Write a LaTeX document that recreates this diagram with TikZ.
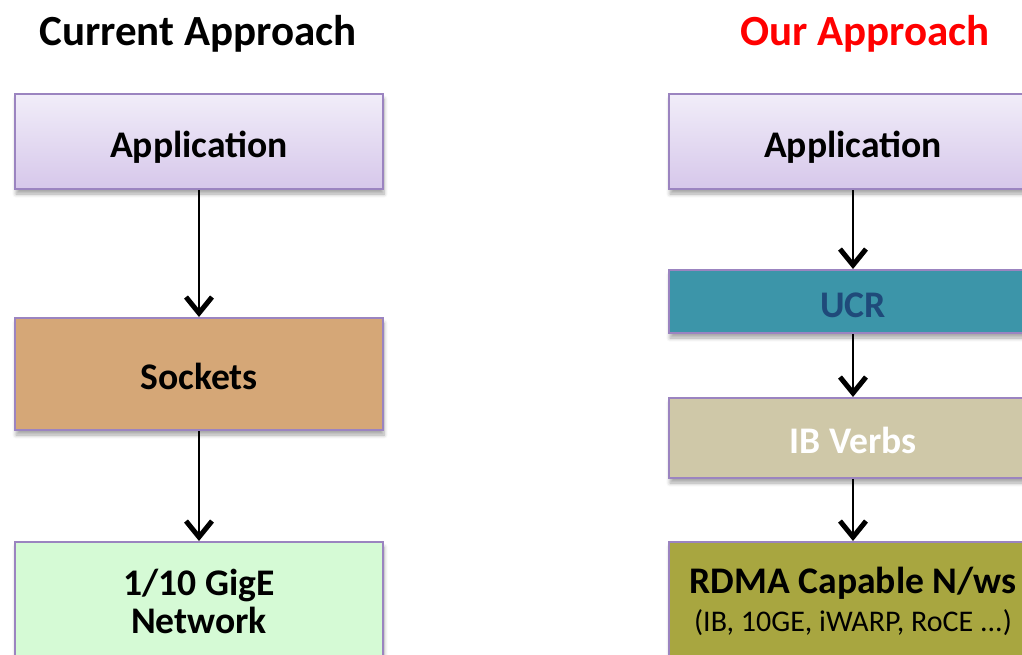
\documentclass[tikz,border=0pt]{standalone}
\usepackage{fontspec}
\setmainfont{Carlito}
\usetikzlibrary{positioning,arrows.meta,shadows.blur}
\definecolor{boxline}{HTML}{9B84C0}
\definecolor{apptop}{HTML}{F1EDF9}
\definecolor{appbot}{HTML}{D6C7EA}
\definecolor{socketfill}{HTML}{D5A777}
\definecolor{gigefill}{HTML}{D5FAD5}
\definecolor{ucrfill}{HTML}{3C95A9}
\definecolor{ucrtext}{HTML}{1F4A7A}
\definecolor{verbsfill}{HTML}{CFC8A8}
\definecolor{rdmafill}{HTML}{A8A640}
\begin{document}
\begin{tikzpicture}[x=0.5pt,y=0.5pt,
    every node/.style={font=\bfseries\fontsize{18.8}{19}\selectfont},
    heading/.style={anchor=base, font=\bfseries\fontsize{21.5}{24}\selectfont},
    layer/.style={draw=boxline, line width=1pt, minimum width=184pt, align=center,
      blur shadow={shadow xshift=0.5pt, shadow yshift=-2.5pt, shadow blur steps=6, shadow opacity=35}},
    oneline/.style={text height=15.5pt, text depth=0pt},
    appbox/.style={layer, oneline, top color=apptop, bottom color=appbot, minimum height=47.5pt},
    flow/.style={-{Straight Barb[length=8pt,width=13pt,line width=2.5pt]}, line width=0.8pt}
  ]
\useasboundingbox (0,0) rectangle (1022,-654);
% headings
\node[heading] (curtitle) at (198,-45) {Current Approach};
\node[heading, text=red] (ourtitle) at (865,-45) {Our Approach};
% current stack
\node[appbox] (app1) at (199,-141.5) {Application};
\node[layer, oneline, fill=socketfill, minimum height=56pt, below=63.5pt of app1] (sock) {Sockets};
\node[layer, fill=gigefill, minimum height=59pt, below=55pt of sock] (gige) {1/10 GigE\\Network};
% our stack
\node[appbox] (app2) at (853,-141.5) {Application};
\node[layer, oneline, fill=ucrfill, text=ucrtext, minimum height=31.5pt, below=39.5pt of app2] (ucr) {UCR};
\node[layer, oneline, fill=verbsfill, text=white, minimum height=40pt, below=31.5pt of ucr] (verbs) {IB Verbs};
\node[layer, fill=rdmafill, minimum height=59pt, below=31pt of verbs] (rdma)
  {RDMA Capable N/ws\\{\mdseries\fontsize{15}{18}\selectfont (IB, 10GE, iWARP, RoCE ...)}};
% arrows
\draw[flow] (app1) -- (sock);
\draw[flow] (sock) -- (gige);
\draw[flow] (app2) -- (ucr);
\draw[flow] (ucr) -- (verbs);
\draw[flow] (verbs) -- (rdma);
\end{tikzpicture}
\end{document}
